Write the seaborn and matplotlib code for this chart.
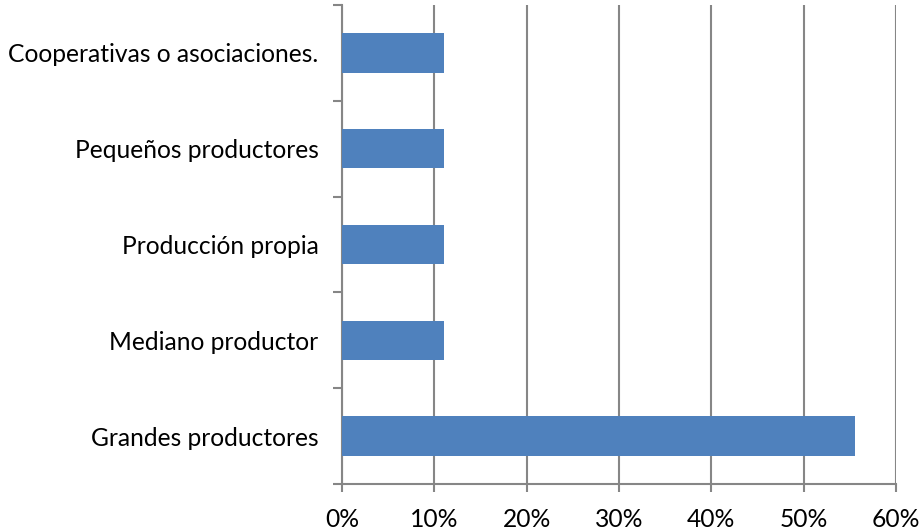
import matplotlib
matplotlib.use("Agg")
import matplotlib.pyplot as plt
import seaborn as sns
import pandas as pd
import numpy as np

categories = [
    "Cooperativas o asociaciones.",
    "Pequeños productores",
    "Producción propia",
    "Mediano productor",
    "Grandes productores",
]
shares = [11.1, 11.1, 11.1, 11.1, 55.6]
x_ticks = [0, 10, 20, 30, 40, 50, 60]
x_tick_labels = ["0%", "10%", "20%", "30%", "40%", "50%", "60%"]

sns.set_theme(style="white")
plt.rcParams["font.family"] = ["Lato", "DejaVu Sans"]

df = pd.DataFrame({"categoria": categories, "porcentaje": shares})

W, H = 921, 531
fig = plt.figure(figsize=(W / 100, H / 100), dpi=100)
ax = fig.add_axes([342 / W, (H - 484) / H, (896 - 342) / W, (484 - 5) / H])

grid_color = "#868686"
sns.barplot(data=df, x="porcentaje", y="categoria", order=categories,
            color="#4F81BD", saturation=1, width=0.41, ax=ax, zorder=3,
            edgecolor="none", linewidth=0)

ax.set_xlim(0, 60)
ax.set_ylim(len(categories) - 0.5, -0.5)
ax.set_xlabel("")
ax.set_ylabel("")

font_size = 17.7
ax.set_xticks(x_ticks)
ax.set_xticklabels(x_tick_labels, fontsize=font_size, color="black")
ax.xaxis.grid(True, color=grid_color, linewidth=1.5, zorder=0)
ax.yaxis.grid(False)

ax.set_yticks(range(len(categories)))
ax.set_yticklabels(categories, fontsize=font_size, color="black")
ax.set_yticks(np.arange(-0.5, len(categories), 1.0), minor=True)

ax.tick_params(axis="y", which="major", length=0, pad=17)
ax.tick_params(axis="y", which="minor", length=6.5, width=1.5, color=grid_color, direction="out", left=True)
ax.tick_params(axis="x", which="major", length=6, width=1.5, color=grid_color, direction="out", bottom=True, pad=11)

for side in ["top", "right"]:
    ax.spines[side].set_visible(False)
for side in ["left", "bottom"]:
    ax.spines[side].set_color(grid_color)
    ax.spines[side].set_linewidth(1.5)

fig.savefig("out.png", dpi=100)
